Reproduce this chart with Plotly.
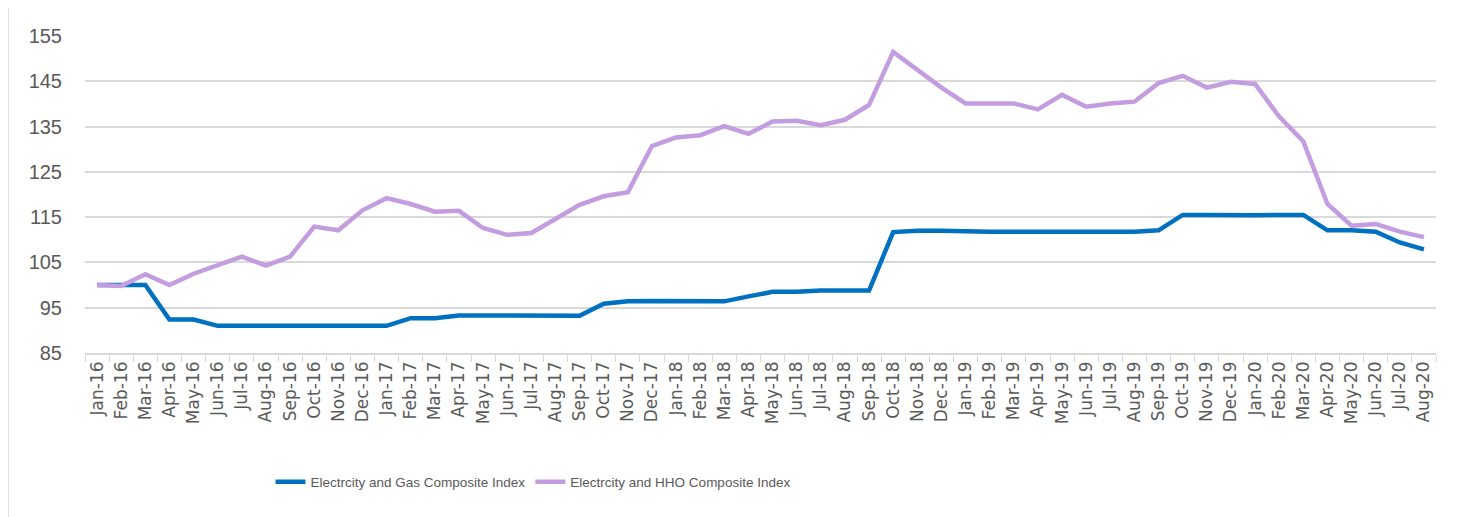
import plotly.graph_objects as go

months = ["Jan", "Feb", "Mar", "Apr", "May", "Jun", "Jul", "Aug", "Sep", "Oct", "Nov", "Dec"]
categories = [f"{m}-{y}" for y in ["16", "17", "18", "19", "20"] for m in months][:56]

gas_index = [100, 100, 100, 92.4, 92.4, 91.0, 91.0, 91.0, 91.0, 91.0, 91.0, 91.0,
             91.0, 92.7, 92.7, 93.3, 93.3, 93.3, 93.3, 93.3, 93.2, 95.9, 96.4, 96.5,
             96.4, 96.5, 96.4, 97.5, 98.5, 98.5, 98.8, 98.8, 98.8, 111.7, 112.0, 112.0,
             111.8, 111.8, 111.8, 111.8, 111.8, 111.8, 111.8, 111.8, 112.1, 115.5, 115.5, 115.4,
             115.4, 115.5, 115.5, 112.1, 112.1, 111.8, 109.4, 107.9]

hho_index = [100, 99.8, 102.4, 100, 102.5, 104.5, 106.3, 104.3, 106.3, 112.9, 112.1, 116.5,
             119.2, 117.9, 116.2, 116.4, 112.6, 111.1, 111.5, 114.6, 117.7, 119.6, 120.5, 130.7,
             132.6, 133.1, 135.1, 133.4, 136.1, 136.3, 135.3, 136.5, 139.8, 151.5, 147.4, 143.6,
             140.1, 140.2, 140.1, 138.8, 142.0, 139.4, 140.1, 140.5, 144.6, 146.2, 143.6, 144.9,
             144.4, 137.2, 131.7, 117.9, 113.1, 113.5, 111.8, 110.6]

y_ticks = [85, 95, 105, 115, 125, 135, 145, 155]

fig = go.Figure()
fig.add_trace(go.Scatter(x=categories, y=gas_index, mode="lines",
                         name="Electrcity and Gas Composite Index",
                         line=dict(color="#0070C0", width=4.5)))
fig.add_trace(go.Scatter(x=categories, y=hho_index, mode="lines",
                         name="Electrcity and HHO Composite Index",
                         line=dict(color="#C39DE0", width=4.5)))

fig.update_layout(
    width=1464, height=509,
    margin=dict(l=77, r=36, t=28, b=164),
    paper_bgcolor="white", plot_bgcolor="white",
    showlegend=True,
    legend=dict(orientation="h", x=0.3316, y=-0.407, xanchor="center", yanchor="middle",
                font=dict(family="Liberation Sans, Arial, sans-serif", size=13.5, color="#595959"),
                bgcolor="rgba(0,0,0,0)"),
    xaxis=dict(type="category", range=[-0.5, 55.5], tickangle=-90,
               tickfont=dict(family="DejaVu Sans, sans-serif", size=17, color="#595959"),
               showgrid=False, showline=True, linecolor="#d9d9d9", linewidth=1.5,
               ticks="outside", tickson="boundaries", ticklen=7, tickcolor="#d9d9d9",
               tickwidth=1),
    yaxis=dict(range=[85, 155], tickvals=y_ticks, showgrid=True, gridcolor="#d9d9d9",
               gridwidth=1.5, zeroline=False, showline=False,
               tickfont=dict(family="Liberation Sans, Arial, sans-serif", size=20, color="#595959"),
               ticks="", ticklabelstandoff=22),
    shapes=[dict(type="rect", xref="paper", yref="paper", x0=-0.057, x1=1.0215,
                 y0=-0.6, y1=1.0946, line=dict(color="#d9d9d9", width=1.5),
                 fillcolor="rgba(0,0,0,0)", layer="below")],
)

fig.write_html("out.html")
